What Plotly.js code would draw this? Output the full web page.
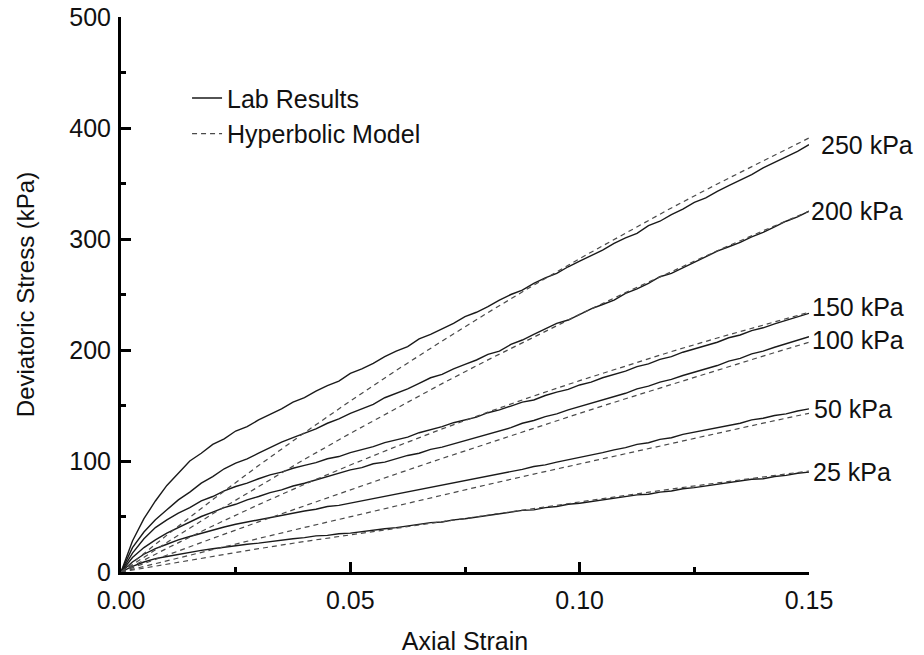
<!DOCTYPE html>
<html>
<head>
<meta charset="utf-8">
<script src="https://cdn.plot.ly/plotly-3.0.1.min.js"></script>
<style>
  html, body { margin: 0; padding: 0; background: #fff; }
  #chart { width: 924px; height: 655px; }
</style>
</head>
<body>
<div id="chart"></div>
<script>
// Triaxial test: deviatoric stress vs axial strain at six confining pressures.

// Lab readings, sampled every 0.0025 strain
const strainLab = [
  0, 0.0025, 0.005, 0.0075, 0.01, 0.0125, 0.015, 0.0175, 0.02, 0.0225,
  0.025, 0.0275, 0.03, 0.0325, 0.035, 0.0375, 0.04, 0.0425, 0.045, 0.0475,
  0.05, 0.0525, 0.055, 0.0575, 0.06, 0.0625, 0.065, 0.0675, 0.07, 0.0725,
  0.075, 0.0775, 0.08, 0.0825, 0.085, 0.0875, 0.09, 0.0925, 0.095, 0.0975,
  0.1, 0.1025, 0.105, 0.1075, 0.11, 0.1125, 0.115, 0.1175, 0.12, 0.1225,
  0.125, 0.1275, 0.13, 0.1325, 0.135, 0.1375, 0.14, 0.1425, 0.145, 0.1475,
  0.15
];

const lab250 = [
  0, 28, 48, 64, 78, 89, 100, 107, 115, 120,
  127, 131, 137, 142, 147, 153, 157, 163, 168, 172,
  179, 183, 188, 194, 199, 203, 210, 214, 219, 224,
  230, 234, 239, 245, 250, 254, 260, 265, 269, 275,
  280, 285, 290, 296, 301, 305, 312, 316, 322, 327,
  333, 337, 343, 348, 353, 358, 364, 369, 374, 379,
  385
];
const lab200 = [
  0, 22, 36, 47, 56, 65, 72, 80, 86, 93,
  98, 102, 107, 112, 117, 121, 125, 129, 134, 138,
  143, 147, 151, 157, 161, 165, 170, 175, 178, 183,
  187, 191, 196, 199, 205, 209, 214, 219, 224, 227,
  232, 237, 241, 245, 251, 255, 260, 266, 269, 274,
  279, 284, 289, 293, 297, 302, 306, 311, 316, 320,
  325
];
const lab150 = [
  0, 17, 30, 40, 47, 53, 58, 64, 68, 73,
  77, 80, 84, 87.5, 90, 93.5, 96, 98.5, 102, 104,
  107.5, 110, 113, 116.5, 119, 121.5, 125.5, 128, 131, 134.5,
  137, 139.5, 143.5, 146, 149.5, 153, 155, 159, 162, 164.5,
  168.5, 171, 175, 178, 181, 185, 187.5, 191.5, 194, 198,
  201, 204.5, 207, 211, 213.5, 217.5, 220, 223.5, 226.5, 230,
  233
];
const lab100 = [
  0, 13, 22, 29, 35, 40, 45, 50, 54, 58,
  61, 65, 68, 71.5, 74, 77.5, 80, 83, 86.5, 89,
  92, 94, 97.5, 99, 102, 105, 107, 110.5, 112.5, 115.5,
  118, 121.5, 124, 127.5, 130, 134, 136.5, 140, 142.5, 146,
  149, 152.5, 155, 158.5, 161, 165, 167.5, 171, 173.5, 177,
  180, 183.5, 186, 190, 192.5, 196.5, 199, 202.5, 205.5, 209,
  212
];
const lab50 = [
  0, 9, 16, 21, 25, 29, 32, 35, 38, 40.5,
  43, 45, 47, 49.5, 51, 53.5, 55, 56.5, 59, 60,
  62, 64.5, 66, 68.5, 70, 72, 74.5, 76, 78.5, 80,
  82, 84.5, 86, 88.5, 90.5, 92.5, 95, 96.5, 99, 101,
  103, 105.5, 107.5, 110, 112, 115, 116.5, 119.5, 121, 124,
  126, 128.5, 130, 132.5, 134, 137, 138.5, 141, 142.5, 145,
  147
];
const lab25 = [
  0, 5, 9, 12, 14, 16, 18, 19.5, 21, 22.5,
  23.5, 25, 26, 27.5, 28.5, 30, 31, 32.5, 33, 34.5,
  35, 36.5, 37.5, 39, 40, 41.5, 42.5, 44.5, 45, 47,
  48, 49.5, 50.5, 52.5, 53.5, 55.5, 56, 58, 59, 61,
  62, 63.5, 64.5, 66.5, 67.5, 69.5, 70, 72, 73, 75,
  76, 77.5, 78.5, 80.5, 81.5, 83.5, 84, 86, 87, 89,
  90
];

// Hyperbolic model curves
const strainModel = [0, 0.005, 0.01, 0.02, 0.03, 0.04, 0.05, 0.06, 0.07, 0.08,
                     0.09, 0.1, 0.11, 0.12, 0.13, 0.14, 0.15];
const hyp250 = [0, 16.8, 33.2, 65.2, 95.9, 125.5, 154.1, 181.6, 208.1, 233.7, 258.5, 282.4, 305.5, 328.0, 349.6, 370.6, 391];
const hyp200 = [0, 13.4, 26.6, 52.4, 77.3, 101.5, 124.9, 147.6, 169.7, 191.1, 211.9, 232.1, 251.7, 270.8, 289.4, 307.4, 325];
const hyp150 = [0, 10.8, 21.3, 41.5, 60.7, 79.0, 96.4, 113.0, 128.9, 144.0, 158.6, 172.4, 185.8, 198.6, 210.8, 222.6, 234];
const hyp100 = [0, 7.7, 15.3, 30.3, 45.2, 59.8, 74.2, 88.3, 102.3, 116.0, 129.6, 143.0, 156.1, 169.1, 181.9, 194.5, 207];
const hyp50  = [0, 5.1, 10.2, 20.3, 30.2, 40.1, 49.9, 59.6, 69.2, 78.8, 88.2, 97.5, 106.8, 116.0, 125.1, 134.1, 143];
const hyp25  = [0, 3.6, 7.2, 14.2, 21, 27.5, 33.5, 39.5, 45.5, 51.5, 57.5, 63.3, 69, 74.8, 80.3, 85.8, 91];

const pressureLabels = ['250 kPa', '200 kPa', '150 kPa', '100 kPa', '50 kPa', '25 kPa'];
const labSeries = [lab250, lab200, lab150, lab100, lab50, lab25];
const modelSeries = [hyp250, hyp200, hyp150, hyp100, hyp50, hyp25];

const FONT = 'Liberation Sans, Arial, sans-serif';
const TEXT = '#111';
const labLine = { color: '#1a1a1a', width: 1.4 };
const modelLine = { color: '#4a4a4a', width: 1.2, dash: '5px,4px' };

const traces = [];
labSeries.forEach((ys, i) => {
  traces.push({
    x: strainLab, y: ys, type: 'scatter', mode: 'lines',
    line: labLine, name: 'Lab Results', legendgroup: 'lab',
    showlegend: i === 0, hoverinfo: 'skip'
  });
});
modelSeries.forEach((ys, i) => {
  traces.push({
    x: strainModel, y: ys, type: 'scatter', mode: 'lines',
    line: modelLine, name: 'Hyperbolic Model', legendgroup: 'model',
    showlegend: i === 0, hoverinfo: 'skip'
  });
});

// end-of-curve pressure labels
const labelShift = [[10, 0], [0, 0], [1, 6], [1, -3], [3, 0], [2, 0]];
const annotations = pressureLabels.map((t, i) => {
  const ys = labSeries[i];
  return {
    x: strainLab[strainLab.length - 1], y: ys[ys.length - 1],
    xref: 'x', yref: 'y', text: t, showarrow: false,
    xanchor: 'left', yanchor: 'middle',
    xshift: labelShift[i][0], yshift: labelShift[i][1],
    font: { family: FONT, size: 25, color: TEXT }
  };
});

const layout = {
  width: 924, height: 655,
  margin: { l: 121, r: 115, t: 17, b: 83, pad: 0 },
  paper_bgcolor: '#fff', plot_bgcolor: '#fff',
  font: { family: FONT, size: 25, color: TEXT },
  showlegend: true,
  legend: {
    x: 0.096, y: 0.895, xanchor: 'left', yanchor: 'top',
    bgcolor: 'rgba(0,0,0,0)', borderwidth: 0,
    traceorder: 'grouped', tracegroupgap: 0,
    font: { family: FONT, size: 25, color: TEXT }
  },
  xaxis: {
    range: [0, 0.15], dtick: 0.05, tick0: 0, tickformat: '.2f',
    showgrid: false, zeroline: false,
    showline: true, linecolor: '#000', linewidth: 3,
    ticks: 'inside', ticklen: 10, tickwidth: 3, tickcolor: '#000',
    minor: { ticks: 'inside', ticklen: 5, tickwidth: 3, dtick: 0.025, tickcolor: '#000', showgrid: false },
    tickfont: { family: FONT, size: 25, color: TEXT },
    ticklabelstandoff: 4,
    title: { text: 'Axial Strain', font: { family: FONT, size: 25, color: TEXT }, standoff: 24 }
  },
  yaxis: {
    range: [0, 500], dtick: 100, tick0: 0,
    showgrid: false, zeroline: false,
    showline: true, linecolor: '#000', linewidth: 3,
    ticks: 'inside', ticklen: 10, tickwidth: 3, tickcolor: '#000',
    minor: { ticks: 'inside', ticklen: 5, tickwidth: 3, dtick: 50, tickcolor: '#000', showgrid: false },
    tickfont: { family: FONT, size: 25, color: TEXT },
    ticklabelstandoff: 2,
    title: { text: 'Deviatoric Stress (kPa)', font: { family: FONT, size: 24, color: TEXT }, standoff: 28 }
  },
  annotations: annotations
};

Plotly.newPlot('chart', traces, layout, { staticPlot: true, displayModeBar: false });
</script>
</body>
</html>
